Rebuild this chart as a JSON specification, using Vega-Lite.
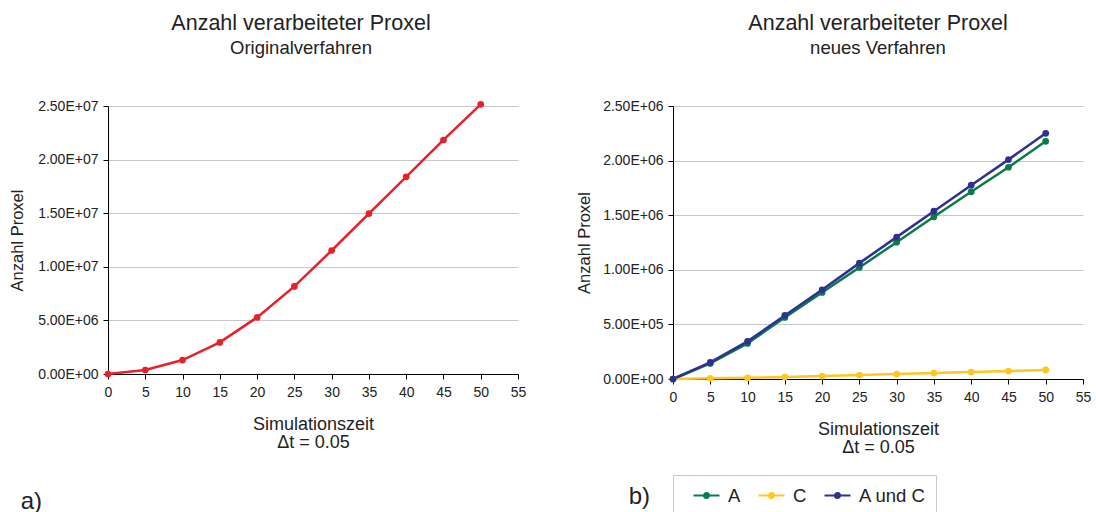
{
  "$schema": "https://vega.github.io/schema/vega-lite/v6.json",
  "background": "white",
  "padding": {"left": 9, "top": 13, "right": 2, "bottom": 0},
  "config": {
    "font": "Liberation Sans",
    "view": {"stroke": null},
    "axis": {
      "labelFont": "Liberation Sans", "labelFontSize": 14, "labelColor": "#222",
      "titleFont": "Liberation Sans", "titleFontWeight": "normal", "titleColor": "#222",
      "domainColor": "#000", "tickColor": "#000", "tickSize": 5, "gridColor": "#c8c8c8"
    },
    "title": {
      "font": "Liberation Sans", "fontSize": 21.5, "fontWeight": "normal", "color": "#222",
      "subtitleFont": "Liberation Sans", "subtitleFontSize": 18.5, "subtitleColor": "#222", "subtitlePadding": 4
    },
    "legend": {
      "orient": "bottom", "direction": "horizontal",
      "labelFont": "Liberation Sans", "labelFontSize": 18.5, "labelColor": "#222",
      "strokeColor": "#c8c8c8", "padding": 10, "labelOffset": 24, "columnPadding": 7, "offset": 19
    }
  },
  "datasets": {
    "orig": [
      {"t": 0, "n": 0}, {"t": 5, "n": 373000}, {"t": 10, "n": 1304000}, {"t": 15, "n": 2950000},
      {"t": 20, "n": 5280000}, {"t": 25, "n": 8170000}, {"t": 30, "n": 11520000}, {"t": 35, "n": 14970000},
      {"t": 40, "n": 18390000}, {"t": 45, "n": 21830000}, {"t": 50, "n": 25160000}
    ],
    "neu": [
      {"t": 0, "s": "A", "n": 0}, {"t": 5, "s": "A", "n": 143000}, {"t": 10, "s": "A", "n": 326000},
      {"t": 15, "s": "A", "n": 564000}, {"t": 20, "s": "A", "n": 793000}, {"t": 25, "s": "A", "n": 1021000},
      {"t": 30, "s": "A", "n": 1253000}, {"t": 35, "s": "A", "n": 1485000}, {"t": 40, "s": "A", "n": 1714000},
      {"t": 45, "s": "A", "n": 1939000}, {"t": 50, "s": "A", "n": 2177000},
      {"t": 0, "s": "C", "n": 0}, {"t": 5, "s": "C", "n": 6000}, {"t": 10, "s": "C", "n": 11000},
      {"t": 15, "s": "C", "n": 18000}, {"t": 20, "s": "C", "n": 27000}, {"t": 25, "s": "C", "n": 36000},
      {"t": 30, "s": "C", "n": 45000}, {"t": 35, "s": "C", "n": 54000}, {"t": 40, "s": "C", "n": 63000},
      {"t": 45, "s": "C", "n": 73000}, {"t": 50, "s": "C", "n": 83000},
      {"t": 0, "s": "A und C", "n": 0}, {"t": 5, "s": "A und C", "n": 152000}, {"t": 10, "s": "A und C", "n": 345000},
      {"t": 15, "s": "A und C", "n": 582000}, {"t": 20, "s": "A und C", "n": 817000}, {"t": 25, "s": "A und C", "n": 1061000},
      {"t": 30, "s": "A und C", "n": 1299000}, {"t": 35, "s": "A und C", "n": 1537000}, {"t": 40, "s": "A und C", "n": 1775000},
      {"t": 45, "s": "A und C", "n": 2009000}, {"t": 50, "s": "A und C", "n": 2250000}
    ]
  },
  "resolve": {"scale": {"color": "independent"}, "legend": {"color": "independent"}},
  "spacing": 50,
  "hconcat": [
    {
      "title": {"text": "a)", "orient": "bottom", "anchor": "start", "frame": "bounds", "fontSize": 24, "offset": 39, "dx": 11},
      "vconcat": [
        {
          "title": {"text": "Anzahl verarbeiteter Proxel", "subtitle": "Originalverfahren", "anchor": "middle", "offset": 42, "dx": -12},
          "width": 410, "height": 268,
          "data": {"name": "orig"},
          "mark": {"type": "line", "color": "#E8202A", "strokeWidth": 2.5, "point": {"filled": true, "size": 45, "color": "#E8202A"}},
          "encoding": {
            "x": {"field": "t", "type": "quantitative", "scale": {"domain": [0, 55], "nice": false},
              "axis": {"values": [0, 5, 10, 15, 20, 25, 30, 35, 40, 45, 50, 55], "grid": false,
                "title": ["Simulationszeit", "Δt = 0.05"], "titleFontSize": 18, "titleLineHeight": 18,
                "labelPadding": 6, "titlePadding": 16, "labelFlush": false}},
            "y": {"field": "n", "type": "quantitative", "scale": {"domain": [0, 25000000], "nice": false},
              "axis": {"values": [0, 5000000, 10000000, 15000000, 20000000, 25000000],
                "labelExpr": "replace(replace(format(datum.value, '.2e'), 'e+', 'E+0'), 'e-', 'E-0')",
                "title": "Anzahl Proxel", "titleFontSize": 16.5, "titlePadding": 12, "labelPadding": 5}}
          }
        }
      ]
    },
    {
      "title": {"text": "b)", "orient": "bottom", "anchor": "start", "frame": "bounds", "fontSize": 24, "offset": -31, "dx": 52},
      "resolve": {"scale": {"color": "independent"}, "legend": {"color": "independent"}},
      "vconcat": [
        {
          "title": {"text": "Anzahl verarbeiteter Proxel", "subtitle": "neues Verfahren", "anchor": "middle", "offset": 42},
          "width": 410, "height": 273,
          "data": {"name": "neu"},
          "mark": {"type": "line", "strokeWidth": 2.5, "point": {"filled": true, "size": 45}},
          "encoding": {
            "x": {"field": "t", "type": "quantitative", "scale": {"domain": [0, 55], "nice": false},
              "axis": {"values": [0, 5, 10, 15, 20, 25, 30, 35, 40, 45, 50, 55], "grid": false,
                "title": ["Simulationszeit", "Δt = 0.05"], "titleFontSize": 18, "titleLineHeight": 18,
                "labelPadding": 6, "titlePadding": 16, "labelFlush": false}},
            "y": {"field": "n", "type": "quantitative", "scale": {"domain": [0, 2500000], "nice": false},
              "axis": {"values": [0, 500000, 1000000, 1500000, 2000000, 2500000],
                "labelExpr": "replace(replace(format(datum.value, '.2e'), 'e+', 'E+0'), 'e-', 'E-0')",
                "title": "Anzahl Proxel", "titleFontSize": 16.5, "titlePadding": 10, "labelPadding": 5}},
            "color": {"field": "s", "type": "nominal",
              "scale": {"domain": ["A", "C", "A und C"], "range": ["#0A7A4A", "#FFC820", "#2E3192"]},
              "legend": {"title": null,
                "symbolType": "M0,0H2.889M1.174,0A0.27,0.27,0,1,1,1.714,0A0.27,0.27,0,1,1,1.174,0M1.333,0A0.111,0.111,0,1,1,1.555,0A0.111,0.111,0,1,1,1.333,0",
                "symbolSize": 324, "symbolStrokeWidth": 2.2}}
          }
        }
      ]
    }
  ]
}
